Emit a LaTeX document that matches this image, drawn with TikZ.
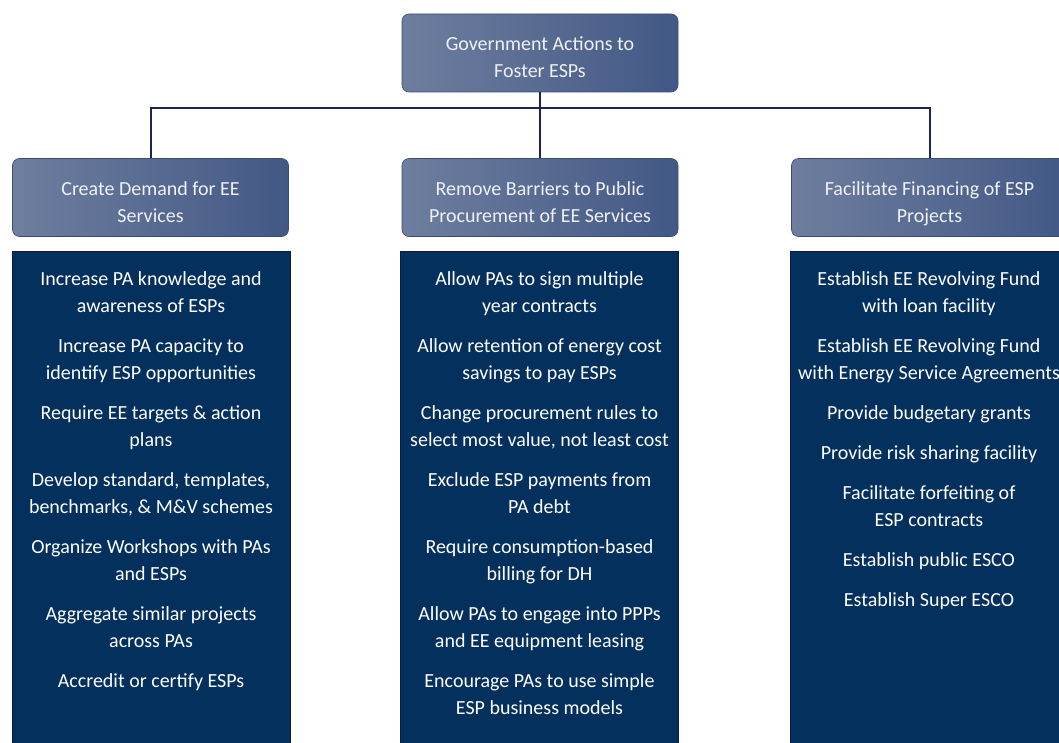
\documentclass[tikz,border=0pt]{standalone}
\usepackage{fontspec}
\setmainfont{Carlito}
\definecolor{hdrlight}{HTML}{6E7E9E}
\definecolor{hdrdark}{HTML}{425885}
\definecolor{hdredge}{HTML}{3A4C74}
\definecolor{listfill}{HTML}{04305E}
\definecolor{listedge}{HTML}{0B1B44}
\definecolor{linkcol}{HTML}{1B2550}
\definecolor{hdrtext}{HTML}{EEF1F6}
\begin{document}
\begin{tikzpicture}[x=1pt,y=-1pt,
  hdr/.style={rectangle,rounded corners=7pt,draw=hdredge,line width=0.6pt,
    left color=hdrlight,right color=hdrdark,minimum width=276pt,minimum height=78pt,
    text=hdrtext,font=\fontsize{20}{27}\selectfont,align=center,inner sep=0pt,
    text height=54pt,text depth=4pt},
  listbox/.style={rectangle,fill=listfill,draw=listedge,line width=0.8pt,
    minimum width=278pt,minimum height=500pt,anchor=north,inner sep=0pt},
  items/.style={anchor=north,align=center,inner sep=0pt,text=white,
    font=\fontsize{20}{27}\selectfont},
  link/.style={draw=linkcol,line width=2pt}]

  \clip (0,0) rectangle (1059,743);
  \useasboundingbox (0,0) rectangle (1059,743);

  % header row
  \node (top) at (540, 53) [hdr] {Government Actions to\\Foster ESPs};
  \node (demand) at (150.5, 197.5) [hdr] {Create Demand for EE\\Services};
  \node (barrier) at (540, 197.5) [hdr] {Remove Barriers to Public\\Procurement of EE Services};
  \node (finance) at (929.5, 197.5) [hdr] {Facilitate Financing of ESP\\Projects};

  \coordinate (bar) at (540, 108);
  \draw[link] (top.south) -- (barrier.north);
  \draw[link] (demand.north) |- (bar) -| (finance.north);

  % action lists
  \node (demandbox) at (151, 251) [listbox] {};
  \node (barrierbox) at (539.5, 251) [listbox] {};
  \node (financebox) at (929, 251) [listbox] {};

  \node (demandlist) at (151, 266) [items] {\strut Increase PA knowledge and\\awareness of ESPs\\[13pt]
    Increase PA capacity to\\identify ESP opportunities\\[13pt]
    Require EE targets \& action\\plans\\[13pt]
    Develop standard, templates,\\benchmarks, \& M\&V schemes\\[13pt]
    Organize Workshops with PAs\\and ESPs\\[13pt]
    Aggregate similar projects\\across PAs\\[13pt]
    Accredit or certify ESPs};

  \node (barrierlist) at (539.5, 266) [items] {\strut Allow PAs to sign multiple\\year contracts\\[13pt]
    Allow retention of energy cost\\savings to pay ESPs\\[13pt]
    Change procurement rules to\\select most value, not least cost\\[13pt]
    Exclude ESP payments from\\PA debt\\[13pt]
    Require consumption-based\\billing for DH\\[13pt]
    Allow PAs to engage into PPPs\\and EE equipment leasing\\[13pt]
    Encourage PAs to use simple\\ESP business models};

  \node (financelist) at (929, 266) [items] {\strut Establish EE Revolving Fund\\with loan facility\\[13pt]
    Establish EE Revolving Fund\\with Energy Service Agreements\\[13pt]
    Provide budgetary grants\\[13pt]
    Provide risk sharing facility\\[13pt]
    Facilitate forfeiting of\\ESP contracts\\[13pt]
    Establish public ESCO\\[13pt]
    Establish Super ESCO};

\end{tikzpicture}
\end{document}
